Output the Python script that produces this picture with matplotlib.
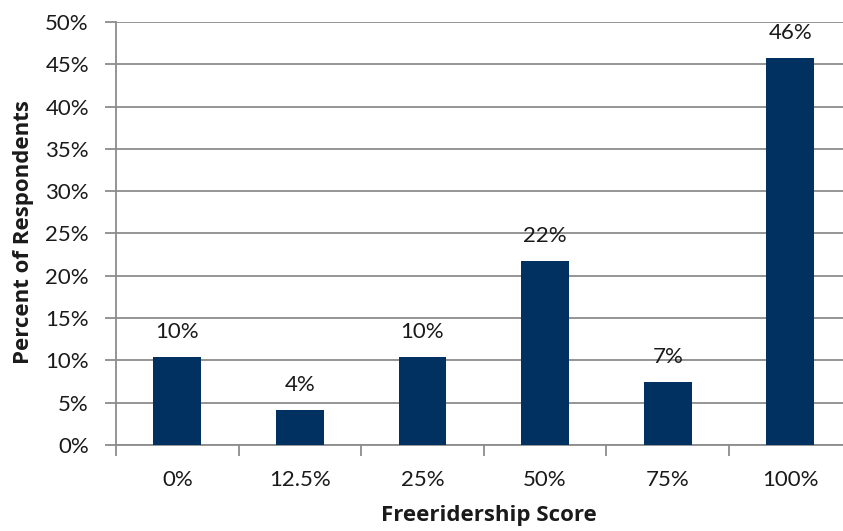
import matplotlib
matplotlib.use("Agg")
import matplotlib.pyplot as plt
from matplotlib.ticker import FixedLocator, NullFormatter

categories = ["0%", "12.5%", "25%", "50%", "75%", "100%"]
percent = [10.4, 4.1, 10.4, 21.8, 7.4, 45.8]
y_ticks = [0, 5, 10, 15, 20, 25, 30, 35, 40, 45, 50]

bar_color = "#003161"
grid_color = "#8c8c8c"
text_color = "#1a1a1a"

plt.rcParams["font.family"] = ["Lato", "DejaVu Sans"]
title_font = ["Open Sans", "DejaVu Sans"]

W, H = 843, 531
fig = plt.figure(figsize=(W / 100, H / 100), dpi=100)
left, right, top, bottom = 116, 851.6, 22, 445
ax = fig.add_axes([left / W, 1 - bottom / H, (right - left) / W, (bottom - top) / H])

x = list(range(len(categories)))
bars = ax.bar(x, percent, width=0.39, color=bar_color, zorder=3)

ax.set_xlim(-0.5, len(categories) - 0.5)
ax.set_ylim(0, 50)

ax.set_yticks(y_ticks)
ax.set_yticklabels([f"{t}%" for t in y_ticks])
ax.yaxis.grid(True, color=grid_color, linewidth=1.3, zorder=0)

ax.set_xticks(x)
ax.set_xticklabels(categories)
ax.xaxis.set_minor_locator(FixedLocator([i - 0.5 for i in range(len(categories) + 1)]))
ax.xaxis.set_minor_formatter(NullFormatter())
ax.tick_params(axis="x", which="major", length=0, pad=18, labelsize=16, colors=text_color)
ax.tick_params(axis="x", which="minor", length=8, width=1.3, color=grid_color, direction="out")
ax.tick_params(axis="y", length=8, width=1.3, color=grid_color, direction="out",
               labelsize=16, labelcolor=text_color, pad=11.5)

for side in ("top", "right"):
    ax.spines[side].set_visible(False)
for side in ("left", "bottom"):
    ax.spines[side].set_color(grid_color)
    ax.spines[side].set_linewidth(1.3)

for rect, v in zip(bars, percent):
    ax.annotate(f"{v:.0f}%", (rect.get_x() + rect.get_width() / 2, v),
                xytext=(0, 13.7), textcoords="offset points",
                ha="center", va="baseline", fontsize=16, color=text_color)

fig.text(24 / W, 1 - 232 / H, "Percent of Respondents", rotation=90,
         ha="center", va="center", fontsize=16, fontweight="bold",
         color=text_color, family=title_font)
fig.text(489 / W, 1 - 516 / H, "Freeridership Score", ha="center", va="center",
         fontsize=16, fontweight="bold", color=text_color, family=title_font)

fig.savefig("out.png", dpi=100)
